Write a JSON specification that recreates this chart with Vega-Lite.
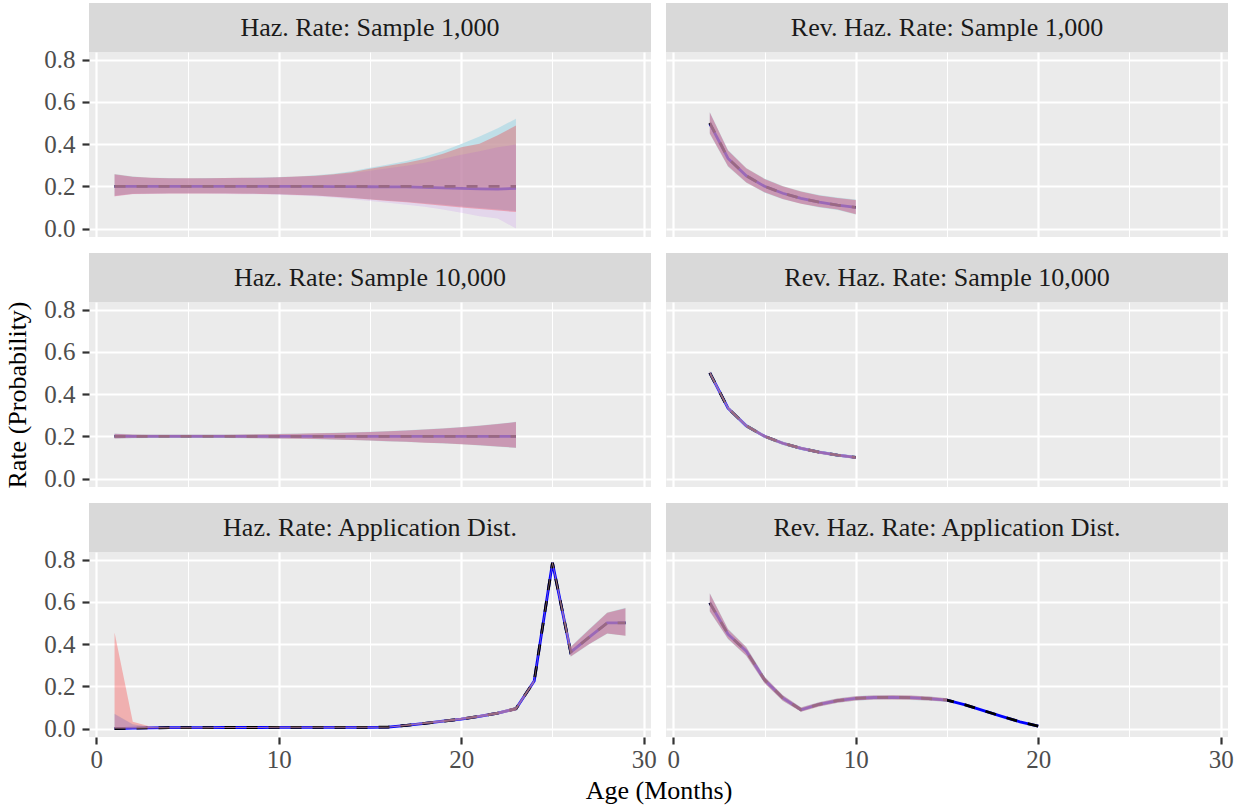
{
"$schema": "https://vega.github.io/schema/vega-lite/v6.json",
"autosize": {"type": "pad"},
"padding": {"left": 4, "top": 3, "right": 5, "bottom": 5},
"background": "#FFFFFF",
"datasets": {
"p1": [
{"x":1,"est":0.200,"truth":0.2,"loA":0.155,"hiA":0.258,"loB":0.153,"hiB":0.257,"loC":0.152,"hiC":0.255},
{"x":2,"est":0.200,"truth":0.2,"loA":0.165,"hiA":0.246,"loB":0.164,"hiB":0.245,"loC":0.163,"hiC":0.244},
{"x":3,"est":0.200,"truth":0.2,"loA":0.166,"hiA":0.241,"loB":0.165,"hiB":0.240,"loC":0.164,"hiC":0.239},
{"x":4,"est":0.200,"truth":0.2,"loA":0.167,"hiA":0.239,"loB":0.166,"hiB":0.238,"loC":0.165,"hiC":0.237},
{"x":5,"est":0.200,"truth":0.2,"loA":0.167,"hiA":0.238,"loB":0.166,"hiB":0.238,"loC":0.165,"hiC":0.237},
{"x":6,"est":0.200,"truth":0.2,"loA":0.167,"hiA":0.239,"loB":0.166,"hiB":0.238,"loC":0.165,"hiC":0.237},
{"x":7,"est":0.200,"truth":0.2,"loA":0.167,"hiA":0.239,"loB":0.166,"hiB":0.239,"loC":0.164,"hiC":0.238},
{"x":8,"est":0.200,"truth":0.2,"loA":0.166,"hiA":0.240,"loB":0.165,"hiB":0.240,"loC":0.163,"hiC":0.239},
{"x":9,"est":0.200,"truth":0.2,"loA":0.165,"hiA":0.242,"loB":0.164,"hiB":0.241,"loC":0.162,"hiC":0.240},
{"x":10,"est":0.200,"truth":0.2,"loA":0.163,"hiA":0.244,"loB":0.162,"hiB":0.243,"loC":0.160,"hiC":0.242},
{"x":11,"est":0.200,"truth":0.2,"loA":0.160,"hiA":0.247,"loB":0.159,"hiB":0.246,"loC":0.157,"hiC":0.245},
{"x":12,"est":0.200,"truth":0.2,"loA":0.157,"hiA":0.252,"loB":0.156,"hiB":0.250,"loC":0.153,"hiC":0.248},
{"x":13,"est":0.199,"truth":0.2,"loA":0.152,"hiA":0.260,"loB":0.151,"hiB":0.257,"loC":0.147,"hiC":0.254},
{"x":14,"est":0.199,"truth":0.2,"loA":0.146,"hiA":0.271,"loB":0.145,"hiB":0.267,"loC":0.139,"hiC":0.262},
{"x":15,"est":0.198,"truth":0.2,"loA":0.139,"hiA":0.288,"loB":0.137,"hiB":0.283,"loC":0.130,"hiC":0.274},
{"x":16,"est":0.197,"truth":0.2,"loA":0.133,"hiA":0.303,"loB":0.131,"hiB":0.297,"loC":0.122,"hiC":0.285},
{"x":17,"est":0.197,"truth":0.2,"loA":0.127,"hiA":0.320,"loB":0.124,"hiB":0.311,"loC":0.113,"hiC":0.297},
{"x":18,"est":0.195,"truth":0.2,"loA":0.120,"hiA":0.341,"loB":0.116,"hiB":0.329,"loC":0.103,"hiC":0.312},
{"x":19,"est":0.193,"truth":0.2,"loA":0.113,"hiA":0.367,"loB":0.108,"hiB":0.354,"loC":0.090,"hiC":0.330},
{"x":20,"est":0.190,"truth":0.2,"loA":0.105,"hiA":0.400,"loB":0.100,"hiB":0.385,"loC":0.075,"hiC":0.350},
{"x":21,"est":0.188,"truth":0.2,"loA":0.097,"hiA":0.436,"loB":0.092,"hiB":0.402,"loC":0.058,"hiC":0.366},
{"x":22,"est":0.187,"truth":0.2,"loA":0.090,"hiA":0.475,"loB":0.085,"hiB":0.442,"loC":0.048,"hiC":0.385},
{"x":23,"est":0.190,"truth":0.2,"loA":0.083,"hiA":0.520,"loB":0.078,"hiB":0.488,"loC":0.000,"hiC":0.398}
],
"p2": [
{"x":2,"est":0.497,"truth":0.5,"loA":0.448,"hiA":0.552,"loB":0.450,"hiB":0.550,"loC":0.452,"hiC":0.548},
{"x":3,"est":0.332,"truth":0.333,"loA":0.293,"hiA":0.372,"loB":0.295,"hiB":0.370,"loC":0.297,"hiC":0.368},
{"x":4,"est":0.250,"truth":0.25,"loA":0.217,"hiA":0.287,"loB":0.218,"hiB":0.285,"loC":0.220,"hiC":0.283},
{"x":5,"est":0.200,"truth":0.2,"loA":0.170,"hiA":0.237,"loB":0.172,"hiB":0.235,"loC":0.173,"hiC":0.233},
{"x":6,"est":0.167,"truth":0.167,"loA":0.139,"hiA":0.202,"loB":0.140,"hiB":0.200,"loC":0.141,"hiC":0.198},
{"x":7,"est":0.143,"truth":0.143,"loA":0.117,"hiA":0.177,"loB":0.118,"hiB":0.175,"loC":0.119,"hiC":0.173},
{"x":8,"est":0.125,"truth":0.125,"loA":0.100,"hiA":0.159,"loB":0.102,"hiB":0.157,"loC":0.103,"hiC":0.155},
{"x":9,"est":0.111,"truth":0.111,"loA":0.088,"hiA":0.147,"loB":0.090,"hiB":0.145,"loC":0.091,"hiC":0.143},
{"x":10,"est":0.100,"truth":0.1,"loA":0.066,"hiA":0.137,"loB":0.068,"hiB":0.135,"loC":0.070,"hiC":0.133}
],
"p3": [
{"x":1,"est":0.201,"truth":0.2,"loA":0.189,"hiA":0.213,"loB":0.190,"hiB":0.212,"loC":0.191,"hiC":0.211},
{"x":2,"est":0.200,"truth":0.2,"loA":0.191,"hiA":0.210,"loB":0.192,"hiB":0.209,"loC":0.193,"hiC":0.208},
{"x":3,"est":0.200,"truth":0.2,"loA":0.192,"hiA":0.209,"loB":0.193,"hiB":0.208,"loC":0.194,"hiC":0.207},
{"x":4,"est":0.200,"truth":0.2,"loA":0.192,"hiA":0.209,"loB":0.193,"hiB":0.208,"loC":0.194,"hiC":0.207},
{"x":5,"est":0.200,"truth":0.2,"loA":0.192,"hiA":0.209,"loB":0.193,"hiB":0.208,"loC":0.194,"hiC":0.207},
{"x":6,"est":0.200,"truth":0.2,"loA":0.192,"hiA":0.209,"loB":0.193,"hiB":0.208,"loC":0.194,"hiC":0.207},
{"x":7,"est":0.200,"truth":0.2,"loA":0.192,"hiA":0.209,"loB":0.193,"hiB":0.208,"loC":0.194,"hiC":0.207},
{"x":8,"est":0.200,"truth":0.2,"loA":0.191,"hiA":0.210,"loB":0.192,"hiB":0.209,"loC":0.193,"hiC":0.208},
{"x":9,"est":0.200,"truth":0.2,"loA":0.190,"hiA":0.211,"loB":0.191,"hiB":0.210,"loC":0.192,"hiC":0.209},
{"x":10,"est":0.200,"truth":0.2,"loA":0.189,"hiA":0.212,"loB":0.190,"hiB":0.211,"loC":0.191,"hiC":0.210},
{"x":11,"est":0.200,"truth":0.2,"loA":0.188,"hiA":0.213,"loB":0.189,"hiB":0.212,"loC":0.190,"hiC":0.211},
{"x":12,"est":0.200,"truth":0.2,"loA":0.186,"hiA":0.215,"loB":0.187,"hiB":0.214,"loC":0.188,"hiC":0.213},
{"x":13,"est":0.200,"truth":0.2,"loA":0.184,"hiA":0.217,"loB":0.185,"hiB":0.216,"loC":0.186,"hiC":0.215},
{"x":14,"est":0.200,"truth":0.2,"loA":0.182,"hiA":0.219,"loB":0.183,"hiB":0.218,"loC":0.184,"hiC":0.217},
{"x":15,"est":0.200,"truth":0.2,"loA":0.179,"hiA":0.222,"loB":0.180,"hiB":0.221,"loC":0.181,"hiC":0.220},
{"x":16,"est":0.200,"truth":0.2,"loA":0.176,"hiA":0.225,"loB":0.177,"hiB":0.224,"loC":0.178,"hiC":0.223},
{"x":17,"est":0.200,"truth":0.2,"loA":0.173,"hiA":0.229,"loB":0.174,"hiB":0.228,"loC":0.175,"hiC":0.227},
{"x":18,"est":0.200,"truth":0.2,"loA":0.169,"hiA":0.233,"loB":0.170,"hiB":0.232,"loC":0.171,"hiC":0.231},
{"x":19,"est":0.200,"truth":0.2,"loA":0.166,"hiA":0.238,"loB":0.167,"hiB":0.237,"loC":0.168,"hiC":0.236},
{"x":20,"est":0.200,"truth":0.2,"loA":0.162,"hiA":0.244,"loB":0.163,"hiB":0.243,"loC":0.164,"hiC":0.242},
{"x":21,"est":0.200,"truth":0.2,"loA":0.157,"hiA":0.251,"loB":0.158,"hiB":0.250,"loC":0.159,"hiC":0.249},
{"x":22,"est":0.200,"truth":0.2,"loA":0.151,"hiA":0.259,"loB":0.152,"hiB":0.258,"loC":0.153,"hiC":0.257},
{"x":23,"est":0.200,"truth":0.2,"loA":0.145,"hiA":0.269,"loB":0.146,"hiB":0.268,"loC":0.147,"hiC":0.267}
],
"p4": [
{"x":2,"est":0.500,"truth":0.5,"loA":0.490,"hiA":0.510,"loB":0.491,"hiB":0.509,"loC":0.492,"hiC":0.508},
{"x":3,"est":0.333,"truth":0.333,"loA":0.325,"hiA":0.342,"loB":0.326,"hiB":0.341,"loC":0.327,"hiC":0.340},
{"x":4,"est":0.250,"truth":0.25,"loA":0.242,"hiA":0.258,"loB":0.243,"hiB":0.257,"loC":0.244,"hiC":0.256},
{"x":5,"est":0.200,"truth":0.2,"loA":0.192,"hiA":0.208,"loB":0.193,"hiB":0.207,"loC":0.194,"hiC":0.206},
{"x":6,"est":0.167,"truth":0.167,"loA":0.159,"hiA":0.175,"loB":0.160,"hiB":0.174,"loC":0.161,"hiC":0.173},
{"x":7,"est":0.143,"truth":0.143,"loA":0.135,"hiA":0.151,"loB":0.136,"hiB":0.150,"loC":0.137,"hiC":0.149},
{"x":8,"est":0.125,"truth":0.125,"loA":0.117,"hiA":0.133,"loB":0.118,"hiB":0.132,"loC":0.119,"hiC":0.131},
{"x":9,"est":0.111,"truth":0.111,"loA":0.103,"hiA":0.119,"loB":0.104,"hiB":0.118,"loC":0.105,"hiC":0.117},
{"x":10,"est":0.100,"truth":0.1,"loA":0.092,"hiA":0.108,"loB":0.093,"hiB":0.107,"loC":0.094,"hiC":0.106}
],
"p5": [
{"x":1,"est":0.000,"truth":0.000,"loA":0.000,"hiA":0.070,"loB":0.000,"hiB":0.455,"loC":0.000,"hiC":0.068},
{"x":2,"est":0.002,"truth":0.002,"loA":0.000,"hiA":0.020,"loB":0.000,"hiB":0.032,"loC":0.000,"hiC":0.019},
{"x":3,"est":0.003,"truth":0.003,"loA":0.001,"hiA":0.007,"loB":0.000,"hiB":0.008,"loC":0.001,"hiC":0.007},
{"x":4,"est":0.004,"truth":0.004,"loA":0.002,"hiA":0.006,"loB":0.002,"hiB":0.006,"loC":0.002,"hiC":0.006},
{"x":5,"est":0.004,"truth":0.004,"loA":0.002,"hiA":0.006,"loB":0.002,"hiB":0.006,"loC":0.002,"hiC":0.006},
{"x":6,"est":0.004,"truth":0.004,"loA":0.002,"hiA":0.006,"loB":0.002,"hiB":0.006,"loC":0.002,"hiC":0.006},
{"x":7,"est":0.005,"truth":0.005,"loA":0.003,"hiA":0.007,"loB":0.003,"hiB":0.007,"loC":0.003,"hiC":0.007},
{"x":8,"est":0.005,"truth":0.005,"loA":0.003,"hiA":0.007,"loB":0.003,"hiB":0.007,"loC":0.003,"hiC":0.007},
{"x":9,"est":0.005,"truth":0.005,"loA":0.003,"hiA":0.007,"loB":0.003,"hiB":0.007,"loC":0.003,"hiC":0.007},
{"x":10,"est":0.006,"truth":0.006,"loA":0.004,"hiA":0.008,"loB":0.004,"hiB":0.008,"loC":0.004,"hiC":0.008},
{"x":11,"est":0.006,"truth":0.006,"loA":0.004,"hiA":0.008,"loB":0.004,"hiB":0.008,"loC":0.004,"hiC":0.008},
{"x":12,"est":0.006,"truth":0.006,"loA":0.004,"hiA":0.008,"loB":0.004,"hiB":0.008,"loC":0.004,"hiC":0.008},
{"x":13,"est":0.006,"truth":0.006,"loA":0.004,"hiA":0.008,"loB":0.004,"hiB":0.008,"loC":0.004,"hiC":0.008},
{"x":14,"est":0.006,"truth":0.006,"loA":0.004,"hiA":0.008,"loB":0.004,"hiB":0.008,"loC":0.004,"hiC":0.008},
{"x":15,"est":0.006,"truth":0.006,"loA":0.004,"hiA":0.008,"loB":0.004,"hiB":0.008,"loC":0.004,"hiC":0.008},
{"x":16,"est":0.007,"truth":0.007,"loA":0.005,"hiA":0.009,"loB":0.005,"hiB":0.009,"loC":0.005,"hiC":0.009},
{"x":17,"est":0.015,"truth":0.015,"loA":0.012,"hiA":0.019,"loB":0.012,"hiB":0.019,"loC":0.012,"hiC":0.019},
{"x":18,"est":0.025,"truth":0.025,"loA":0.021,"hiA":0.030,"loB":0.021,"hiB":0.030,"loC":0.021,"hiC":0.030},
{"x":19,"est":0.035,"truth":0.035,"loA":0.030,"hiA":0.040,"loB":0.030,"hiB":0.040,"loC":0.030,"hiC":0.040},
{"x":20,"est":0.045,"truth":0.045,"loA":0.040,"hiA":0.051,"loB":0.040,"hiB":0.051,"loC":0.040,"hiC":0.051},
{"x":21,"est":0.058,"truth":0.058,"loA":0.052,"hiA":0.064,"loB":0.052,"hiB":0.064,"loC":0.052,"hiC":0.064},
{"x":22,"est":0.073,"truth":0.073,"loA":0.066,"hiA":0.080,"loB":0.066,"hiB":0.080,"loC":0.066,"hiC":0.080},
{"x":23,"est":0.094,"truth":0.094,"loA":0.086,"hiA":0.102,"loB":0.086,"hiB":0.102,"loC":0.086,"hiC":0.102},
{"x":24,"est":0.225,"truth":0.225,"loA":0.218,"hiA":0.232,"loB":0.218,"hiB":0.232,"loC":0.218,"hiC":0.232},
{"x":25,"est":0.785,"truth":0.785,"loA":0.778,"hiA":0.792,"loB":0.778,"hiB":0.792,"loC":0.778,"hiC":0.792},
{"x":26,"est":0.362,"truth":0.362,"loA":0.340,"hiA":0.388,"loB":0.341,"hiB":0.386,"loC":0.342,"hiC":0.385},
{"x":27,"est":0.432,"truth":0.432,"loA":0.398,"hiA":0.470,"loB":0.399,"hiB":0.468,"loC":0.400,"hiC":0.467},
{"x":28,"est":0.500,"truth":0.500,"loA":0.449,"hiA":0.550,"loB":0.450,"hiB":0.548,"loC":0.451,"hiC":0.546},
{"x":29,"est":0.500,"truth":0.500,"loA":0.439,"hiA":0.572,"loB":0.440,"hiB":0.570,"loC":0.441,"hiC":0.568}
],
"p6": [
{"x":2,"est":0.595,"truth":0.595,"loA":0.553,"hiA":0.642,"loB":0.555,"hiB":0.640,"loC":0.557,"hiC":0.638},
{"x":3,"est":0.447,"truth":0.447,"loA":0.423,"hiA":0.472,"loB":0.425,"hiB":0.470,"loC":0.427,"hiC":0.468},
{"x":4,"est":0.366,"truth":0.366,"loA":0.344,"hiA":0.387,"loB":0.345,"hiB":0.385,"loC":0.347,"hiC":0.383},
{"x":5,"est":0.231,"truth":0.231,"loA":0.214,"hiA":0.247,"loB":0.215,"hiB":0.245,"loC":0.217,"hiC":0.243},
{"x":6,"est":0.145,"truth":0.145,"loA":0.131,"hiA":0.159,"loB":0.132,"hiB":0.158,"loC":0.133,"hiC":0.157},
{"x":7,"est":0.089,"truth":0.089,"loA":0.079,"hiA":0.101,"loB":0.080,"hiB":0.100,"loC":0.081,"hiC":0.099},
{"x":8,"est":0.115,"truth":0.115,"loA":0.104,"hiA":0.126,"loB":0.105,"hiB":0.125,"loC":0.106,"hiC":0.124},
{"x":9,"est":0.132,"truth":0.132,"loA":0.121,"hiA":0.143,"loB":0.122,"hiB":0.142,"loC":0.123,"hiC":0.141},
{"x":10,"est":0.143,"truth":0.143,"loA":0.132,"hiA":0.154,"loB":0.133,"hiB":0.153,"loC":0.134,"hiC":0.152},
{"x":11,"est":0.147,"truth":0.147,"loA":0.136,"hiA":0.158,"loB":0.137,"hiB":0.157,"loC":0.138,"hiC":0.156},
{"x":12,"est":0.148,"truth":0.148,"loA":0.137,"hiA":0.159,"loB":0.138,"hiB":0.158,"loC":0.139,"hiC":0.157},
{"x":13,"est":0.146,"truth":0.146,"loA":0.135,"hiA":0.157,"loB":0.136,"hiB":0.156,"loC":0.137,"hiC":0.155},
{"x":14,"est":0.142,"truth":0.142,"loA":0.132,"hiA":0.153,"loB":0.133,"hiB":0.152,"loC":0.134,"hiC":0.151},
{"x":15,"est":0.135,"truth":0.135,"loA":0.126,"hiA":0.144,"loB":0.127,"hiB":0.143,"loC":0.128,"hiC":0.142},
{"x":16,"est":0.112,"truth":0.112,"loA":null,"hiA":null,"loB":null,"hiB":null,"loC":null,"hiC":null},
{"x":17,"est":0.085,"truth":0.085,"loA":null,"hiA":null,"loB":null,"hiB":null,"loC":null,"hiC":null},
{"x":18,"est":0.058,"truth":0.058,"loA":null,"hiA":null,"loB":null,"hiB":null,"loC":null,"hiC":null},
{"x":19,"est":0.032,"truth":0.032,"loA":null,"hiA":null,"loB":null,"hiB":null,"loC":null,"hiC":null},
{"x":20,"est":0.012,"truth":0.012,"loA":null,"hiA":null,"loB":null,"hiB":null,"loC":null,"hiC":null}
]
},
"columns": 2,
"spacing": {"row": 0, "column": 15},
"bounds": "flush",
"concat": [
  {"width": 562, "height": 49, "view": {"fill": "#D9D9D9", "stroke": null}, "data": {"values": [{"label": "Haz. Rate: Sample 1,000"}]}, "mark": {"type": "text", "font": "Liberation Serif", "fontSize": 26, "color": "#1A1A1A", "baseline": "middle", "align": "center"}, "encoding": {"text": {"field": "label"}}},
  {"width": 562, "height": 49, "view": {"fill": "#D9D9D9", "stroke": null}, "data": {"values": [{"label": "Rev. Haz. Rate: Sample 1,000"}]}, "mark": {"type": "text", "font": "Liberation Serif", "fontSize": 26, "color": "#1A1A1A", "baseline": "middle", "align": "center"}, "encoding": {"text": {"field": "label"}}},
  {"width": 562, "height": 185, "data": {"name": "p1"},
   "encoding": {"x": {"field": "x", "type": "quantitative", "scale": {"domain": [-0.4, 30.4], "nice": false, "zero": false}, "axis": {"values": [0,5,10,15,20,25,30], "labels": false, "ticks": false, "title": null, "gridWidth": {"condition": {"test": "datum.value % 10 === 0", "value": 2.2}, "value": 1.1}}}},
   "layer": [
    {"mark": {"type": "line", "color": "#0000FF", "strokeWidth": 2.8}, "encoding": {"y": {"field": "est", "type": "quantitative", "scale": {"domain": [-0.04, 0.836], "nice": false, "zero": false}, "axis": {"values": [0,0.1,0.2,0.3,0.4,0.5,0.6,0.7,0.8], "format": ".1f", "labelExpr": "round(datum.value*10) % 2 === 0 ? datum.label : ''", "tickOpacity": {"condition": {"test": "round(datum.value*10) % 2 === 0", "value": 1}, "value": 0}, "gridWidth": {"condition": {"test": "round(datum.value*10) % 2 === 0", "value": 2.2}, "value": 1.1}, "title": null, "labelPadding": 7}}}},
    {"mark": {"type": "line", "color": "#000000", "strokeWidth": 2.8, "strokeDash": [11, 11]}, "encoding": {"y": {"field": "truth", "type": "quantitative"}}},
    {"mark": {"type": "area", "color": "#ADD8E6", "opacity": 0.7}, "encoding": {"y": {"field": "loA", "type": "quantitative"}, "y2": {"field": "hiA"}}},
    {"mark": {"type": "area", "color": "#FF0000", "opacity": 0.25}, "encoding": {"y": {"field": "loB", "type": "quantitative"}, "y2": {"field": "hiB"}}},
    {"mark": {"type": "area", "color": "#A020F0", "opacity": 0.1}, "encoding": {"y": {"field": "loC", "type": "quantitative"}, "y2": {"field": "hiC"}}}
   ]},
  {"width": 562, "height": 185, "data": {"name": "p2"},
   "encoding": {"x": {"field": "x", "type": "quantitative", "scale": {"domain": [-0.4, 30.4], "nice": false, "zero": false}, "axis": {"values": [0,5,10,15,20,25,30], "labels": false, "ticks": false, "title": null, "gridWidth": {"condition": {"test": "datum.value % 10 === 0", "value": 2.2}, "value": 1.1}}}},
   "layer": [
    {"mark": {"type": "line", "color": "#0000FF", "strokeWidth": 2.8}, "encoding": {"y": {"field": "est", "type": "quantitative", "scale": {"domain": [-0.04, 0.836], "nice": false, "zero": false}, "axis": {"values": [0,0.1,0.2,0.3,0.4,0.5,0.6,0.7,0.8], "labels": false, "ticks": false, "title": null, "gridWidth": {"condition": {"test": "round(datum.value*10) % 2 === 0", "value": 2.2}, "value": 1.1}}}}},
    {"mark": {"type": "line", "color": "#000000", "strokeWidth": 2.8, "strokeDash": [11, 11]}, "encoding": {"y": {"field": "truth", "type": "quantitative"}}},
    {"mark": {"type": "area", "color": "#ADD8E6", "opacity": 0.7}, "encoding": {"y": {"field": "loA", "type": "quantitative"}, "y2": {"field": "hiA"}}},
    {"mark": {"type": "area", "color": "#FF0000", "opacity": 0.25}, "encoding": {"y": {"field": "loB", "type": "quantitative"}, "y2": {"field": "hiB"}}},
    {"mark": {"type": "area", "color": "#A020F0", "opacity": 0.1}, "encoding": {"y": {"field": "loC", "type": "quantitative"}, "y2": {"field": "hiC"}}}
   ]},
  {"width": 562, "height": 15.5, "view": {"fill": null, "stroke": null}, "data": {"values": [{}]}, "mark": {"type": "text", "text": ""}, "encoding": {}},
  {"width": 562, "height": 15.5, "view": {"fill": null, "stroke": null}, "data": {"values": [{}]}, "mark": {"type": "text", "text": ""}, "encoding": {}},
  {"width": 562, "height": 49, "view": {"fill": "#D9D9D9", "stroke": null}, "data": {"values": [{"label": "Haz. Rate: Sample 10,000"}]}, "mark": {"type": "text", "font": "Liberation Serif", "fontSize": 26, "color": "#1A1A1A", "baseline": "middle", "align": "center"}, "encoding": {"text": {"field": "label"}}},
  {"width": 562, "height": 49, "view": {"fill": "#D9D9D9", "stroke": null}, "data": {"values": [{"label": "Rev. Haz. Rate: Sample 10,000"}]}, "mark": {"type": "text", "font": "Liberation Serif", "fontSize": 26, "color": "#1A1A1A", "baseline": "middle", "align": "center"}, "encoding": {"text": {"field": "label"}}},
  {"width": 562, "height": 185, "data": {"name": "p3"},
   "encoding": {"x": {"field": "x", "type": "quantitative", "scale": {"domain": [-0.4, 30.4], "nice": false, "zero": false}, "axis": {"values": [0,5,10,15,20,25,30], "labels": false, "ticks": false, "title": null, "gridWidth": {"condition": {"test": "datum.value % 10 === 0", "value": 2.2}, "value": 1.1}}}},
   "layer": [
    {"mark": {"type": "line", "color": "#0000FF", "strokeWidth": 2.8}, "encoding": {"y": {"field": "est", "type": "quantitative", "scale": {"domain": [-0.04, 0.836], "nice": false, "zero": false}, "axis": {"values": [0,0.1,0.2,0.3,0.4,0.5,0.6,0.7,0.8], "format": ".1f", "labelExpr": "round(datum.value*10) % 2 === 0 ? datum.label : ''", "tickOpacity": {"condition": {"test": "round(datum.value*10) % 2 === 0", "value": 1}, "value": 0}, "gridWidth": {"condition": {"test": "round(datum.value*10) % 2 === 0", "value": 2.2}, "value": 1.1}, "title": "Rate (Probability)", "titlePadding": 13, "labelPadding": 7}}}},
    {"mark": {"type": "line", "color": "#000000", "strokeWidth": 2.8, "strokeDash": [11, 11]}, "encoding": {"y": {"field": "truth", "type": "quantitative"}}},
    {"mark": {"type": "area", "color": "#ADD8E6", "opacity": 0.7}, "encoding": {"y": {"field": "loA", "type": "quantitative"}, "y2": {"field": "hiA"}}},
    {"mark": {"type": "area", "color": "#FF0000", "opacity": 0.25}, "encoding": {"y": {"field": "loB", "type": "quantitative"}, "y2": {"field": "hiB"}}},
    {"mark": {"type": "area", "color": "#A020F0", "opacity": 0.1}, "encoding": {"y": {"field": "loC", "type": "quantitative"}, "y2": {"field": "hiC"}}}
   ]},
  {"width": 562, "height": 185, "data": {"name": "p4"},
   "encoding": {"x": {"field": "x", "type": "quantitative", "scale": {"domain": [-0.4, 30.4], "nice": false, "zero": false}, "axis": {"values": [0,5,10,15,20,25,30], "labels": false, "ticks": false, "title": null, "gridWidth": {"condition": {"test": "datum.value % 10 === 0", "value": 2.2}, "value": 1.1}}}},
   "layer": [
    {"mark": {"type": "line", "color": "#0000FF", "strokeWidth": 2.8}, "encoding": {"y": {"field": "est", "type": "quantitative", "scale": {"domain": [-0.04, 0.836], "nice": false, "zero": false}, "axis": {"values": [0,0.1,0.2,0.3,0.4,0.5,0.6,0.7,0.8], "labels": false, "ticks": false, "title": null, "gridWidth": {"condition": {"test": "round(datum.value*10) % 2 === 0", "value": 2.2}, "value": 1.1}}}}},
    {"mark": {"type": "line", "color": "#000000", "strokeWidth": 2.8, "strokeDash": [11, 11]}, "encoding": {"y": {"field": "truth", "type": "quantitative"}}},
    {"mark": {"type": "area", "color": "#ADD8E6", "opacity": 0.7}, "encoding": {"y": {"field": "loA", "type": "quantitative"}, "y2": {"field": "hiA"}}},
    {"mark": {"type": "area", "color": "#FF0000", "opacity": 0.25}, "encoding": {"y": {"field": "loB", "type": "quantitative"}, "y2": {"field": "hiB"}}},
    {"mark": {"type": "area", "color": "#A020F0", "opacity": 0.1}, "encoding": {"y": {"field": "loC", "type": "quantitative"}, "y2": {"field": "hiC"}}}
   ]},
  {"width": 562, "height": 15.5, "view": {"fill": null, "stroke": null}, "data": {"values": [{}]}, "mark": {"type": "text", "text": ""}, "encoding": {}},
  {"width": 562, "height": 15.5, "view": {"fill": null, "stroke": null}, "data": {"values": [{}]}, "mark": {"type": "text", "text": ""}, "encoding": {}},
  {"width": 562, "height": 49, "view": {"fill": "#D9D9D9", "stroke": null}, "data": {"values": [{"label": "Haz. Rate: Application Dist."}]}, "mark": {"type": "text", "font": "Liberation Serif", "fontSize": 26, "color": "#1A1A1A", "baseline": "middle", "align": "center"}, "encoding": {"text": {"field": "label"}}},
  {"width": 562, "height": 49, "view": {"fill": "#D9D9D9", "stroke": null}, "data": {"values": [{"label": "Rev. Haz. Rate: Application Dist."}]}, "mark": {"type": "text", "font": "Liberation Serif", "fontSize": 26, "color": "#1A1A1A", "baseline": "middle", "align": "center"}, "encoding": {"text": {"field": "label"}}},
  {"width": 562, "height": 185, "data": {"name": "p5"},
   "encoding": {"x": {"field": "x", "type": "quantitative", "scale": {"domain": [-0.4, 30.4], "nice": false, "zero": false}, "axis": {"values": [0,5,10,15,20,25,30], "format": "d", "labelExpr": "datum.value % 10 === 0 ? datum.label : ''", "tickOpacity": {"condition": {"test": "datum.value % 10 === 0", "value": 1}, "value": 0}, "title": null, "labelPadding": 3, "gridWidth": {"condition": {"test": "datum.value % 10 === 0", "value": 2.2}, "value": 1.1}}}},
   "layer": [
    {"mark": {"type": "line", "color": "#0000FF", "strokeWidth": 2.8}, "encoding": {"y": {"field": "est", "type": "quantitative", "scale": {"domain": [-0.04, 0.836], "nice": false, "zero": false}, "axis": {"values": [0,0.1,0.2,0.3,0.4,0.5,0.6,0.7,0.8], "format": ".1f", "labelExpr": "round(datum.value*10) % 2 === 0 ? datum.label : ''", "tickOpacity": {"condition": {"test": "round(datum.value*10) % 2 === 0", "value": 1}, "value": 0}, "gridWidth": {"condition": {"test": "round(datum.value*10) % 2 === 0", "value": 2.2}, "value": 1.1}, "title": null, "labelPadding": 7}}}},
    {"mark": {"type": "line", "color": "#000000", "strokeWidth": 2.8, "strokeDash": [11, 11]}, "encoding": {"y": {"field": "truth", "type": "quantitative"}}},
    {"mark": {"type": "area", "color": "#ADD8E6", "opacity": 0.7}, "encoding": {"y": {"field": "loA", "type": "quantitative"}, "y2": {"field": "hiA"}}},
    {"mark": {"type": "area", "color": "#FF0000", "opacity": 0.25}, "encoding": {"y": {"field": "loB", "type": "quantitative"}, "y2": {"field": "hiB"}}},
    {"mark": {"type": "area", "color": "#A020F0", "opacity": 0.1}, "encoding": {"y": {"field": "loC", "type": "quantitative"}, "y2": {"field": "hiC"}}}
   ]},
  {"width": 562, "height": 185, "data": {"name": "p6"},
   "encoding": {"x": {"field": "x", "type": "quantitative", "scale": {"domain": [-0.4, 30.4], "nice": false, "zero": false}, "axis": {"values": [0,5,10,15,20,25,30], "format": "d", "labelExpr": "datum.value % 10 === 0 ? datum.label : ''", "tickOpacity": {"condition": {"test": "datum.value % 10 === 0", "value": 1}, "value": 0}, "title": "Age (Months)", "titleX": -7.5, "titleAlign": "center", "titlePadding": 5, "labelPadding": 3, "gridWidth": {"condition": {"test": "datum.value % 10 === 0", "value": 2.2}, "value": 1.1}}}},
   "layer": [
    {"mark": {"type": "line", "color": "#0000FF", "strokeWidth": 2.8}, "encoding": {"y": {"field": "est", "type": "quantitative", "scale": {"domain": [-0.04, 0.836], "nice": false, "zero": false}, "axis": {"values": [0,0.1,0.2,0.3,0.4,0.5,0.6,0.7,0.8], "labels": false, "ticks": false, "title": null, "gridWidth": {"condition": {"test": "round(datum.value*10) % 2 === 0", "value": 2.2}, "value": 1.1}}}}},
    {"mark": {"type": "line", "color": "#000000", "strokeWidth": 2.8, "strokeDash": [11, 11]}, "encoding": {"y": {"field": "truth", "type": "quantitative"}}},
    {"mark": {"type": "area", "color": "#ADD8E6", "opacity": 0.7}, "encoding": {"y": {"field": "loA", "type": "quantitative"}, "y2": {"field": "hiA"}}},
    {"mark": {"type": "area", "color": "#FF0000", "opacity": 0.25}, "encoding": {"y": {"field": "loB", "type": "quantitative"}, "y2": {"field": "hiB"}}},
    {"mark": {"type": "area", "color": "#A020F0", "opacity": 0.1}, "encoding": {"y": {"field": "loC", "type": "quantitative"}, "y2": {"field": "hiC"}}}
   ]}
],
"config": {
 "view": {"fill": "#EBEBEB", "stroke": null},
 "axis": {"domain": false, "grid": true, "gridColor": "#FFFFFF", "labelFont": "Liberation Serif", "labelFontSize": 25, "labelColor": "#4D4D4D", "titleFont": "Liberation Serif", "titleFontSize": 26, "titleFontWeight": "normal", "titleColor": "#000000", "tickColor": "#333333", "tickWidth": 2.2, "tickSize": 7}
}
}
